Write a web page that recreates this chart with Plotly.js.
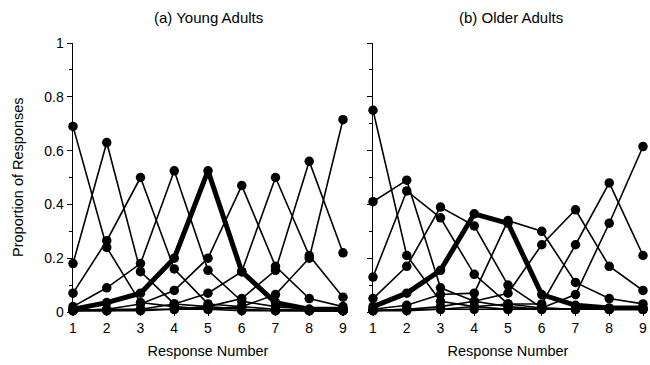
<!DOCTYPE html>
<html>
<head>
<meta charset="utf-8">
<script src="https://cdn.plot.ly/plotly-3.0.1.min.js"></script>
<style>
  html, body { margin: 0; padding: 0; background: #fff; }
  #chart { width: 650px; height: 365px; }
</style>
</head>
<body>
<div id="chart"></div>
<script>
// Response positions on the x axis
const responseNumber = [1, 2, 3, 4, 5, 6, 7, 8, 9];
const yTickVals = [0, 0.2, 0.4, 0.6, 0.8, 1];
const yTickText = ["0", "0.2", "0.4", "0.6", "0.8", "1"];

// (a) Young adults: proportion of responses, one curve per list position
const young1 = [0.69, 0.24, 0.035, 0.02, 0.01, 0.005, 0.005, 0.005, 0.005];
const young2 = [0.18, 0.63, 0.15, 0.03, 0.02, 0.01, 0.005, 0.005, 0.005];
const young3 = [0.07, 0.265, 0.50, 0.16, 0.03, 0.02, 0.01, 0.005, 0.005];
const young4 = [0.02, 0.09, 0.18, 0.525, 0.155, 0.04, 0.02, 0.01, 0.005];
const young5 = [0.01, 0.035, 0.07, 0.20, 0.525, 0.15, 0.035, 0.01, 0.01];
const young6 = [0.005, 0.01, 0.03, 0.08, 0.20, 0.47, 0.17, 0.05, 0.02];
const young7 = [0.005, 0.01, 0.01, 0.03, 0.07, 0.15, 0.50, 0.21, 0.055];
const young8 = [0.005, 0.005, 0.01, 0.01, 0.02, 0.05, 0.155, 0.56, 0.22];
const young9 = [0.005, 0.005, 0.005, 0.01, 0.01, 0.02, 0.065, 0.20, 0.715];

// (b) Older adults
const older1 = [0.75, 0.21, 0.04, 0.02, 0.01, 0.01, 0.01, 0.01, 0.01];
const older2 = [0.41, 0.49, 0.09, 0.04, 0.02, 0.01, 0.01, 0.01, 0.01];
const older3 = [0.13, 0.45, 0.35, 0.14, 0.03, 0.015, 0.01, 0.01, 0.01];
const older4 = [0.05, 0.17, 0.39, 0.32, 0.10, 0.015, 0.01, 0.01, 0.01];
const older5 = [0.02, 0.07, 0.155, 0.365, 0.33, 0.065, 0.025, 0.015, 0.015];
const older6 = [0.01, 0.025, 0.065, 0.07, 0.34, 0.30, 0.11, 0.05, 0.03];
const older7 = [0.005, 0.01, 0.02, 0.04, 0.07, 0.25, 0.38, 0.17, 0.08];
const older8 = [0.005, 0.01, 0.01, 0.02, 0.03, 0.03, 0.25, 0.48, 0.21];
const older9 = [0.005, 0.005, 0.01, 0.01, 0.01, 0.015, 0.065, 0.33, 0.615];

const youngSeries = [young1, young2, young3, young4, young5, young6, young7, young8, young9];
const olderSeries = [older1, older2, older3, older4, older5, older6, older7, older8, older9];

// The middle position (5) is drawn with a heavy line
const BOLD_INDEX = 4;

function makeTraces(seriesList, xa, ya) {
  const traces = [];
  seriesList.forEach((vals, i) => {
    const bold = i === BOLD_INDEX;
    traces.push({
      x: responseNumber,
      y: vals,
      xaxis: xa,
      yaxis: ya,
      type: "scatter",
      mode: "lines+markers",
      cliponaxis: false,
      showlegend: false,
      hoverinfo: "skip",
      line: { color: "#000", width: bold ? 5 : 1.6 },
      marker: { color: "#000", size: 9.5, line: { width: 0 } }
    });
  });
  return traces;
}

const data = [].concat(
  makeTraces(youngSeries, "x", "y"),
  makeTraces(olderSeries, "x2", "y2")
);

const W = 650, H = 365;
const font = { family: "Liberation Sans, Arial, Helvetica, sans-serif", color: "#000" };

function xAxis(domain, anchor) {
  return {
    domain: domain,
    anchor: anchor,
    range: [1, 9],
    tickvals: responseNumber,
    ticktext: responseNumber.map(String),
    ticks: "outside",
    ticklen: 3,
    tickwidth: 1,
    tickcolor: "#000",
    showline: false,
    showgrid: false,
    zeroline: false,
    tickfont: Object.assign({ size: 14 }, font),
    title: { text: "Response Number", font: Object.assign({ size: 14.5 }, font), standoff: 11 }
  };
}

function yAxis(anchor, showLabels) {
  return {
    domain: [(H - 312) / H, (H - 43) / H],
    anchor: anchor,
    range: [0, 1],
    tickvals: yTickVals,
    ticktext: yTickText,
    showticklabels: showLabels,
    ticks: "outside",
    ticklen: 5,
    tickwidth: 1,
    tickcolor: "#000",
    minor: { dtick: 0.1, ticks: "outside", ticklen: 3, tickwidth: 1, tickcolor: "#000" },
    showline: true,
    linecolor: "#000",
    linewidth: 1.4,
    showgrid: false,
    zeroline: false,
    tickfont: Object.assign({ size: 14 }, font)
  };
}

const layout = {
  width: W,
  height: H,
  margin: { l: 0, r: 0, t: 0, b: 0 },
  paper_bgcolor: "#fff",
  plot_bgcolor: "rgba(0,0,0,0)",
  font: font,
  xaxis: xAxis([73 / W, 343 / W], "y"),
  yaxis: yAxis("x", true),
  xaxis2: xAxis([373 / W, 643 / W], "y2"),
  yaxis2: yAxis("x2", false),
  annotations: [
    { text: "(a) Young Adults", xref: "paper", yref: "paper", x: 208 / W, y: (H - 17) / H,
      xanchor: "center", yanchor: "middle", showarrow: false, font: Object.assign({ size: 15 }, font) },
    { text: "(b) Older Adults", xref: "paper", yref: "paper", x: 511 / W, y: (H - 17) / H,
      xanchor: "center", yanchor: "middle", showarrow: false, font: Object.assign({ size: 15 }, font) },
    { text: "Proportion of Responses", xref: "paper", yref: "paper", x: 18 / W, y: (H - 177) / H,
      xanchor: "center", yanchor: "middle", textangle: -90, showarrow: false,
      font: Object.assign({ size: 14.5 }, font) }
  ]
};

Plotly.newPlot("chart", data, layout, { staticPlot: true, displayModeBar: false });
</script>
</body>
</html>
